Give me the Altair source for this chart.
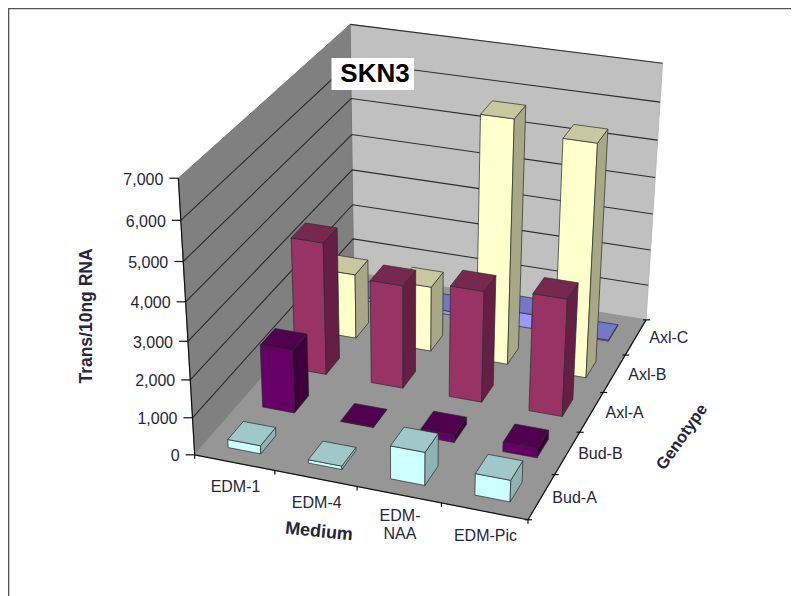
import altair as alt
import numpy as np
import pandas as pd

MEDIUM = ["EDM-1", "EDM-4", "EDM-NAA", "EDM-Pic"]
GENOTYPE = ["Bud-A", "Bud-B", "Axl-A", "Axl-B", "Axl-C"]
BUD_A = [220, 90, 880, 570]
BUD_B = [1700, 15, 200, 250]
AXL_A = [3600, 2800, 3000, 3150]
AXL_B = [1800, 1800, 6550, 6230]
AXL_C = [100, 100, 400, 30]
TICKS = [0, 1000, 2000, 3000, 4000, 5000, 6000, 7000]
VMAX = 7000

FACE = {
    "Bud-A": ("#CCFFFF", "#8FB3B3", "#A0C8C8"),
    "Bud-B": ("#660066", "#3D003D", "#4F004F"),
    "Axl-A": ("#993366", "#661F44", "#77284F"),
    "Axl-B": ("#FFFFCC", "#A8A888", "#C8C8A0"),
    "Axl-C": ("#9999FF", "#6666B0", "#7777C8"),
}

# camera fit: box corners (medium, genotype, value; each 0..1) -> page position
box = [(0, 0, 0), (1, 0, 0), (1, 1, 0), (0, 1, 0), (0, 0, 1), (0, 1, 1), (1, 1, 1)]
page = [(196.7, 456), (526.7, 520), (647, 319), (352, 272), (177.5, 176.7), (350.7, 25), (662.7, 64)]
rows = []
for (a, b, c), (u, v) in zip(box, page):
    rows.append([a, b, c, 1, 0, 0, 0, 0, -u * a, -u * b, -u * c, -u])
    rows.append([0, 0, 0, 0, a, b, c, 1, -v * a, -v * b, -v * c, -v])
P = np.linalg.svd(np.array(rows, float))[2][-1].reshape(3, 4)


def proj(a, b, c):
    h = P @ np.array([a, b, c, 1.0])
    return float(h[0] / h[2]), float(h[1] / h[2])


polys = []


def add_poly(pts, fill, stroke, sw):
    pid = len(polys)
    polys.append(pid)
    return [
        {"pid": pid, "k": k, "px": proj(*p)[0], "py": proj(*p)[1], "fill": fill, "st": stroke}
        for k, p in enumerate(pts + pts[:1])
    ]


recs = []
# walls and floor
recs += add_poly([(0, 1, 0), (1, 1, 0), (1, 1, 1), (0, 1, 1)], "#C0C0C0", "#B8B8B8", 1)
recs += add_poly([(0, 0, 0), (0, 1, 0), (0, 1, 1), (0, 0, 1)], "#808080", "#787878", 1)
recs += add_poly([(0, 0, 0), (1, 0, 0), (1, 1, 0), (0, 1, 0)], "#969696", "#969696", 1)
wall_polys = pd.DataFrame(recs)

# gridlines
lines = []
lid = 0
for t in TICKS[1:]:
    z = t / VMAX
    pts = [(0, 1, z), (1, 1, z)] if t == VMAX else [(0, 0, z), (0, 1, z), (1, 1, z)]
    for p in pts:
        lines.append({"lid": lid, "k": len(lines), "px": proj(*p)[0], "py": proj(*p)[1]})
    lid += 1
grid = pd.DataFrame(lines)

# bars, back to front
NM, NG = len(MEDIUM), len(GENOTYPE)
HX, HY = 0.205 / NM, 0.22 / NG
series = [BUD_A, BUD_B, AXL_A, AXL_B, AXL_C]
recs = []
for j in range(NG - 1, -1, -1):
    front, side, top = FACE[GENOTYPE[j]]
    for i in range(NM):
        cx, cy = (i + 0.5) / NM, (j + 0.5) / NG
        x0, x1, y0, y1 = cx - HX, cx + HX, cy - HY, cy + HY
        z = series[j][i] / VMAX
        recs += add_poly([(x0, y0, 0), (x1, y0, 0), (x1, y0, z), (x0, y0, z)], front, "#2a2a2a", 0.7)
        recs += add_poly([(x1, y0, 0), (x1, y1, 0), (x1, y1, z), (x1, y0, z)], side, "#2a2a2a", 0.7)
        recs += add_poly([(x0, y0, z), (x1, y0, z), (x1, y1, z), (x0, y1, z)], top, "#2a2a2a", 0.7)
bars = pd.DataFrame(recs)

# axes
ax = []
aid = 0


def seg(p, q):
    global aid
    ax.append({"aid": aid, "k": 0, "px": p[0], "py": p[1]})
    ax.append({"aid": aid, "k": 1, "px": q[0], "py": q[1]})
    aid += 1


seg(proj(0, 0, 0), proj(0, 0, 1))
seg(proj(0, 0, 0), proj(1, 0, 0))
seg(proj(1, 0, 0), proj(1, 1, 0))
for t in TICKS:
    p = proj(0, 0, t / VMAX)
    seg((p[0] - 9, p[1]), p)
for i in range(NM + 1):
    p = proj(i / NM, 0, 0)
    seg(p, (p[0], p[1] + 4))
for j in range(NG + 1):
    p = proj(1, j / NG, 0)
    seg((p[0] - 3, p[1]), (p[0] + 4, p[1]))
axes = pd.DataFrame(ax)

# text
labels = []
for t in TICKS:
    p = proj(0, 0, t / VMAX)
    labels.append({"px": p[0] - 15, "py": p[1] + 1.5, "t": f"{t:,}"})
ytext = pd.DataFrame(labels)

labels = []
for i, m in enumerate(MEDIUM):
    p = proj((i + 0.5) / NM, 0, 0)
    parts = ["EDM-", "NAA"] if m == "EDM-NAA" else [m]
    if len(parts) > 1:
        labels.append({"px": p[0] + 1, "py": p[1] + 21, "t": parts[0]})
        labels.append({"px": p[0] + 1, "py": p[1] + 39, "t": parts[1]})
    else:
        labels.append({"px": p[0] + 1, "py": p[1] + 24.5, "t": parts[0]})
xtext = pd.DataFrame(labels)

labels = []
for j, g in enumerate(GENOTYPE):
    p = proj(1, (j + 0.5) / NG, 0)
    labels.append({"px": p[0] + 33, "py": p[1] + 1, "t": g})
gtext = pd.DataFrame(labels)

XS = alt.Scale(domain=[8, 791], range=[0, 783], nice=False, zero=False)
YS = alt.Scale(domain=[8, 596], range=[0, 588], nice=False, zero=False)
X = alt.X("px:Q", scale=XS, axis=None)
Y = alt.Y("py:Q", scale=YS, axis=None)


def poly_layer(df, sw):
    return alt.Chart(df).mark_line(strokeWidth=sw, strokeJoin="miter").encode(
        x=X, y=Y,
        detail="pid:N",
        order="k:Q",
        fill=alt.Fill("fill:N", scale=None, legend=None),
        stroke=alt.Stroke("st:N", scale=None, legend=None),
    )


def line_layer(df, key, color, sw):
    return alt.Chart(df).mark_line(color=color, strokeWidth=sw).encode(
        x=X, y=Y, detail=f"{key}:N", order="k:Q"
    )


def text_layer(df, size, align="center", **kw):
    return alt.Chart(df).mark_text(fontSize=size, font="Liberation Sans", align=align, baseline="middle",
                                   color="#26263a", **kw).encode(x=X, y=Y, text="t:N")


frame = pd.DataFrame({"aid": [0, 0, 0], "k": [0, 1, 2],
                      "px": [8.5, 8.5, 791], "py": [596, 8.5, 8.5]})
title_box = pd.DataFrame({"px": [331.5], "px2": [414], "py": [58], "py2": [90]})
title_text = pd.DataFrame({"px": [375], "py": [74], "t": ["SKN3"]})
t_y = pd.DataFrame({"px": [87], "py": [316], "t": ["Trans/10ng RNA"]})
t_m = pd.DataFrame({"px": [319], "py": [532], "t": ["Medium"]})
t_g = pd.DataFrame({"px": [682], "py": [437], "t": ["Genotype"]})

chart = alt.layer(
    line_layer(frame, "aid", "#555555", 1.6),
    poly_layer(wall_polys, 1),
    line_layer(grid, "lid", "#2a2a2a", 1.1),
    poly_layer(bars, 0.7),
    line_layer(axes, "aid", "#111111", 1.2),
    alt.Chart(title_box).mark_rect(color="white").encode(x=X, x2="px2:Q", y=Y, y2="py2:Q"),
    alt.Chart(title_text).mark_text(fontSize=26, fontWeight="bold", font="Liberation Sans", color="black").encode(x=X, y=Y, text="t:N"),
    text_layer(ytext, 16, "right"),
    text_layer(xtext, 16),
    text_layer(gtext, 16),
    text_layer(t_y, 17.5, fontWeight="bold", angle=270),
    text_layer(t_m, 18, fontWeight="bold", angle=6),
    text_layer(t_g, 16.5, fontWeight="bold", angle=305),
).properties(
    width=783, height=588, padding=0, autosize=alt.AutoSizeParams(type="none"), background="white"
).configure_view(stroke=None)

chart.save("out.html", embed_options={"renderer": "svg", "actions": False})
